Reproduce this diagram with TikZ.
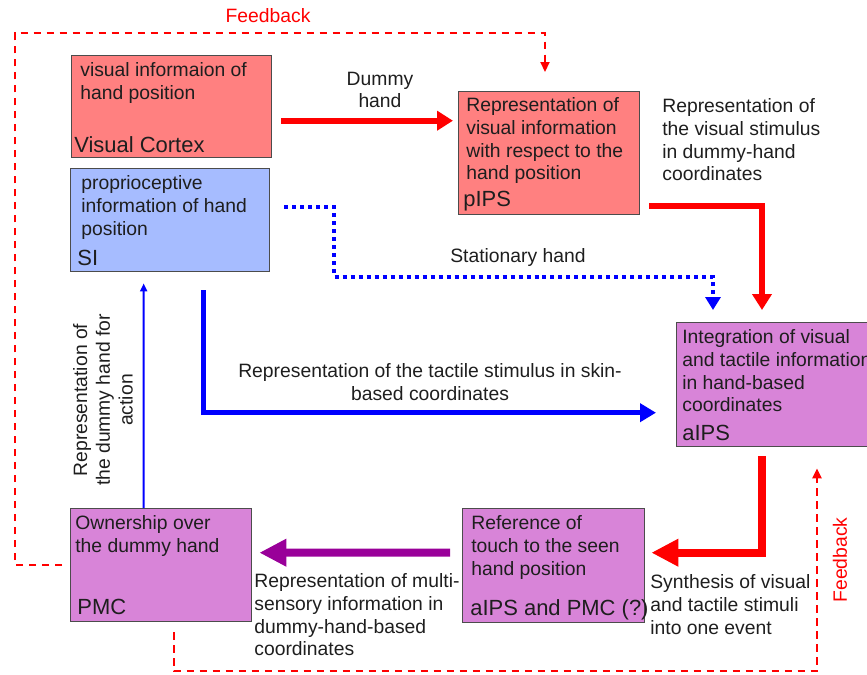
\documentclass[tikz,border=0pt]{standalone}
\usepackage{fontspec}
\setmainfont{Liberation Sans}
\usetikzlibrary{arrows.meta,calc,positioning}

\definecolor{salmon}{RGB}{255,128,128}
\definecolor{skyish}{RGB}{166,188,255}
\definecolor{orchidish}{RGB}{216,132,216}
\definecolor{plumline}{RGB}{153,0,153}
\definecolor{ink}{RGB}{30,30,30}

\begin{document}
\begin{tikzpicture}[x=0.02cm,y=-0.02cm,
    box/.style={draw=black!70, line width=0.8pt, anchor=north west, inner sep=0pt},
    desc/.style={anchor=north west, align=left, inner sep=0pt, text=ink, font=\fontsize{11}{13}\selectfont},
    area/.style={anchor=base west, inner sep=0pt, text=ink, font=\fontsize{12.5}{15}\selectfont},
    note/.style={inner sep=0pt, text=ink, font=\fontsize{11}{13}\selectfont},
    redflow/.style={red, line width=0.12cm, -{Triangle[length=0.32cm,width=0.38cm]}},
    bigflow/.style={line width=0.16cm, -{Triangle[length=0.54cm,width=0.52cm]}},
    feedback/.style={draw=red, line width=1.2pt, dash pattern=on 0.15cm off 0.11cm, -{Triangle[length=0.2cm,width=0.18cm]}},
]
\useasboundingbox (0,0) rectangle (867,674);

% boxes
\node[box, fill=salmon, minimum width=4cm, minimum height=2.04cm] (VC) at (71,55) {};
\node[box, fill=skyish, minimum width=3.98cm, minimum height=2.06cm] (SI) at (70,168) {};
\node[box, fill=salmon, minimum width=3.62cm, minimum height=2.46cm] (pIPS) at (458,91) {};
\node[box, fill=orchidish, minimum width=4.1cm, minimum height=2.48cm] (aIPS) at (676,322) {};
\node[box, fill=orchidish, minimum width=3.64cm, minimum height=2.28cm] (Ref) at (462,508) {};
\node[box, fill=orchidish, minimum width=3.62cm, minimum height=2.26cm] (PMC) at (70,508) {};

% box texts
\node[desc] (VCtext) at ($(VC.north west)+(9,7)$) {visual informaion of\\hand position};
\node[area] (VCarea) at ($(VC.south west)+(3,-6)$) {Visual Cortex};
\node[desc] (SItext) at ($(SI.north west)+(11,7)$) {proprioceptive\\information of hand\\position};
\node[area] (SIarea) at ($(SI.south west)+(7,-7)$) {SI};
\node[desc] (pIPStext) at ($(pIPS.north west)+(8,6)$) {Representation of\\visual information\\with respect to the\\hand position};
\node[area] (pIPSarea) at ($(pIPS.south west)+(5,-9)$) {pIPS};
\node[desc] (aIPStext) at ($(aIPS.north west)+(6,7)$) {Integration of visual\\and tactile information\\in hand-based\\coordinates};
\node[area] (aIPSarea) at ($(aIPS.south west)+(6,-7)$) {aIPS};
\node[desc] (Reftext) at ($(Ref.north west)+(9,7)$) {Reference of\\touch to the seen\\hand position};
\node[area] (Refarea) at ($(Ref.south west)+(8,-8)$) {aIPS and PMC (?)};
\node[desc] (PMCtext) at ($(PMC.north west)+(5,7)$) {Ownership over\\the dummy hand};
\node[area] (PMCarea) at ($(PMC.south west)+(7,-8)$) {PMC};

% connectors
\draw[redflow] ($(VC.east)+(9,14)$) -- ($(pIPS.west|-VC.east)+(-5,14)$);
\node[note, align=center] (lDummy) at (380,90) {Dummy\\hand};

\draw[redflow] ($(pIPS.south east)+(9,-9)$) -| ($(aIPS.north west)+(86,-12)$);
\node[note, align=left, anchor=north west] (lVisual) at (662,98) {Representation of\\the visual stimulus\\in dummy-hand\\coordinates};

\draw[blue, line width=0.08cm, dash pattern=on 0.08cm off 0.08cm, -{Triangle[length=0.26cm,width=0.3cm]}]
  ($(SI.east)+(14,-13)$) -- ++(50,0) |- ($(aIPS.north west)+(37,-45)$) -- ($(aIPS.north west)+(37,-12)$);
\node[note] (lStat) at (518,257) {Stationary hand};

\draw[blue, line width=0.11cm, -{Triangle[length=0.32cm,width=0.36cm]}]
  ($(SI.south)+(33.5,18)$) |- ($(aIPS.west)+(-20,28)$);
\node[note, align=center] (lTactile) at (430,382) {Representation of the tactile stimulus in skin-\\based coordinates};

\draw[blue, line width=1.1pt, -{Triangle[length=0.16cm,width=0.14cm]}]
  ($(PMC.north)+(-17.5,0)$) -- ($(SI.south)+(-26.5,11)$);
\node[note, align=center, rotate=90] (lAction) at (103,400) {Representation of\\the dummy hand for\\action};

\draw[bigflow, red] ($(aIPS.south west)+(86,9)$) |- ($(Ref.east)+(6,-13)$);
\node[note, align=left, anchor=north west] (lSynth) at (650,574) {Synthesis of visual\\and tactile stimuli\\into one event};

\draw[bigflow, plumline] ($(Ref.west)+(-12,-13)$) -- ($(PMC.east)+(7,-12.5)$);
\node[note, align=left, anchor=north west] (lMulti) at (254,573) {Representation of multi-\\sensory information in\\dummy-hand-based\\coordinates};

% feedback loops
\draw[feedback] ($(PMC.west)+(-8,0)$) -- ++(-47,0) |- ($(pIPS.north west)+(87,-58)$) -- ($(pIPS.north west)+(87,-19)$);
\node[note, text=red] (lFeedTop) at (268,16) {Feedback};

\draw[feedback] ($(PMC.south)+(12.5,10)$) |- ($(aIPS.south west)+(141,224)$) -- ($(aIPS.south west)+(141,21)$);
\node[note, text=red, rotate=90] (lFeedRight) at (840,560) {Feedback};
\end{tikzpicture}
\end{document}
